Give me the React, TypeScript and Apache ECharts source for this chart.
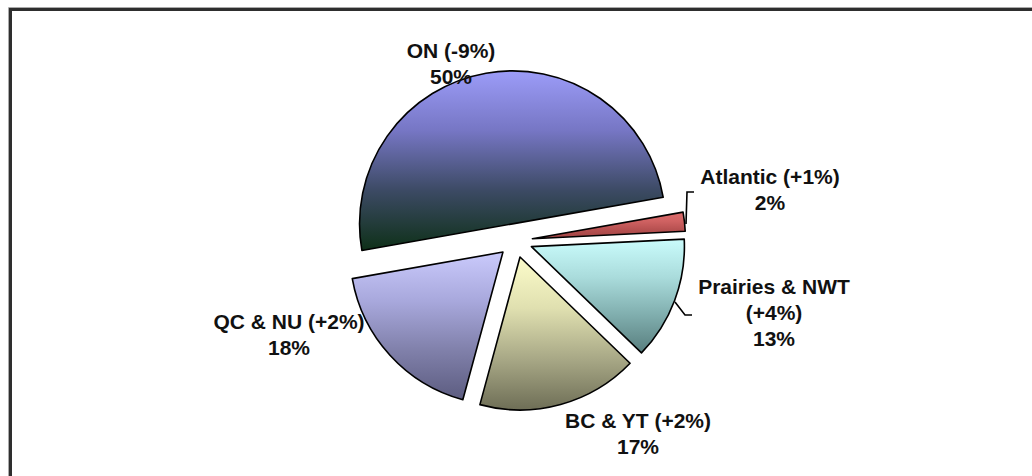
import React, { useEffect, useRef } from "react";
import * as echarts from "echarts";

const regions = ["ON", "Atlantic", "Prairies & NWT", "BC & YT", "QC & NU"];
const changes = ["-9%", "+1%", "+4%", "+2%", "+2%"];
const shares = [50, 2, 13, 17, 18];

const gradients: string[][] = [
  ["#9c9cf8", "#7676c4", "#3c4a64", "#0e3018"],
  ["#dc6c6c", "#d06262", "#b65050", "#a04444"],
  ["#cafcfc", "#aadcdc", "#80aeae", "#587e7e"],
  ["#fcfcca", "#e0e0b0", "#a8a886", "#6e6e56"],
  ["#cacafc", "#a8a8dc", "#8080aa", "#5c5c80"],
];

// label anchor positions (centres of label blocks) and leader lines
const labelPos: number[][] = [
  [451, 63],
  [770, 189],
  [774, 312],
  [638, 433],
  [289, 334],
];
const leaderLines: (number[][] | null)[] = [
  null,
  [[686, 224], [687, 192], [694, 192]],
  [[675, 302], [685, 315], [692, 315]],
  null,
  null,
];

const labelText = (i: number) => {
  const sep = i === 2 ? "\n" : " ";
  return `${regions[i]}${sep}(${changes[i]})\n${shares[i]}%`;
};

export default function App() {
  const ref = useRef<HTMLDivElement>(null);
  useEffect(() => {
    if (!ref.current) return;
    const chart = echarts.init(ref.current, null, { renderer: "svg" });
    const data = regions.map((name, i) => ({
      name,
      value: shares[i],
      selected: true,
      itemStyle: {
        color: {
          type: "linear",
          x: 0,
          y: 0,
          x2: 0,
          y2: 1,
          colorStops: gradients[i].map((c, k) => ({ offset: k / 3, color: c })),
        },
      },
    }));
    const labelGraphics: any[] = regions.map((_, i) => ({
      type: "text",
      z: 10,
      x: labelPos[i][0],
      y: labelPos[i][1],
      style: {
        text: labelText(i),
        align: "center",
        verticalAlign: "middle",
        fontFamily: "Liberation Sans, Arial, sans-serif",
        fontWeight: "bold",
        fontSize: 21,
        lineHeight: 26,
        fill: "#111",
      },
    }));
    const lineGraphics: any[] = leaderLines
      .filter((l) => !!l)
      .map((pts) => ({
        type: "polyline",
        z: 10,
        shape: { points: pts },
        style: { stroke: "#000", lineWidth: 1.6, fill: "none" },
      }));
    chart.setOption({
      animation: false,
      graphic: [
        {
          type: "rect",
          z: -1,
          shape: { x: 10.5, y: 9.5, width: 1100, height: 600 },
          style: { fill: "none", stroke: "#2e2e2e", lineWidth: 3 },
        },
        {
          type: "rect",
          z: -1,
          shape: { x: 8.5, y: 7.5, width: 1100, height: 600 },
          style: { fill: "none", stroke: "#aaaaaa", lineWidth: 1 },
        },
        ...lineGraphics,
        ...labelGraphics,
      ],
      series: [
        {
          type: "pie",
          center: [515.5, 240.6],
          radius: 153,
          startAngle: 190,
          clockwise: true,
          selectedMode: "multiple",
          selectedOffset: 17,
          avoidLabelOverlap: false,
          emphasis: { disabled: true },
          itemStyle: { borderColor: "#000", borderWidth: 1.6 },
          label: { show: false },
          labelLine: { show: false },
          data,
        },
      ],
    });
    return () => chart.dispose();
  }, []);
  return (
    <div
      ref={ref}
      style={{ position: "fixed", left: 0, top: 0, width: 1032, height: 476, background: "#fff" }}
    />
  );
}
